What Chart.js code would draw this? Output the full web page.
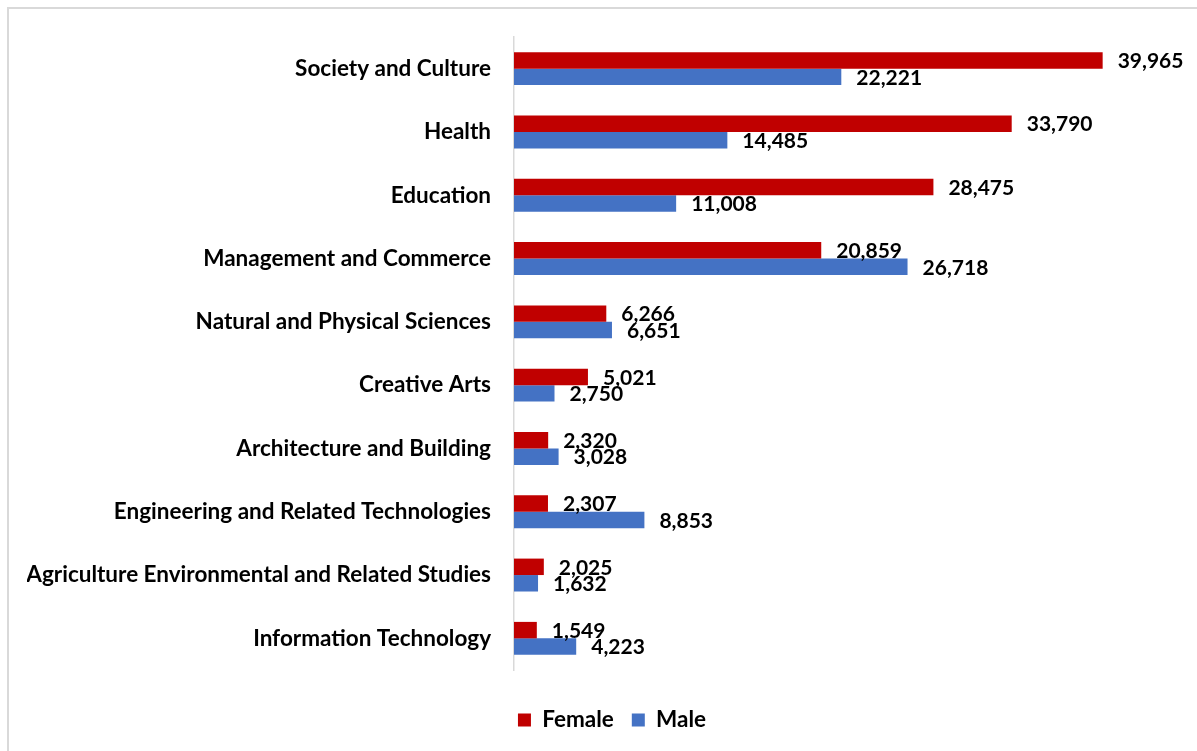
<!DOCTYPE html>
<html>
<head>
<meta charset="utf-8">
<script src="https://cdn.jsdelivr.net/npm/chart.js@4.4.1/dist/chart.umd.min.js"></script>
<style>
  html, body { margin: 0; padding: 0; background: #fff; overflow: hidden; }
  #wrap { position: relative; width: 1197px; height: 751px; }
  #frame { position: absolute; left: 7px; top: 7px; width: 1300px; height: 900px; border: 2px solid #d9d9d9; box-sizing: border-box; }
  canvas { position: absolute; left: 0; top: 0; }
</style>
</head>
<body>
<div id="wrap">
  <div id="frame"></div>
  <canvas id="c" width="1197" height="751"></canvas>
</div>
<script>
const categories = [
  "Society and Culture",
  "Health",
  "Education",
  "Management and Commerce",
  "Natural and Physical Sciences",
  "Creative Arts",
  "Architecture and Building",
  "Engineering and Related Technologies",
  "Agriculture Environmental and Related Studies",
  "Information Technology"
];
const femaleValues = [39965, 33790, 28475, 20859, 6266, 5021, 2320, 2307, 2025, 1549];
const maleValues   = [22221, 14485, 11008, 26718, 6651, 2750, 3028, 8853, 1632, 4223];
const seriesNames = ["Female", "Male"];

const FONT = "Lato, 'Open Sans', sans-serif";

const dataLabels = {
  id: 'dataLabels',
  afterDatasetsDraw(chart) {
    const ctx = chart.ctx;
    ctx.save();
    ctx.font = "bold 21px " + FONT;
    ctx.fillStyle = "#000";
    ctx.textAlign = "left";
    ctx.textBaseline = "middle";
    chart.data.datasets.forEach((ds, di) => {
      const meta = chart.getDatasetMeta(di);
      meta.data.forEach((bar, i) => {
        ctx.fillText(ds.data[i].toLocaleString('en-US'), bar.x + 15, bar.y + 1);
      });
    });
    ctx.restore();
  }
};

new Chart(document.getElementById('c'), {
  type: 'bar',
  data: {
    labels: categories,
    datasets: [
      { label: seriesNames[0], data: femaleValues, backgroundColor: '#C00000', categoryPercentage: 0.52, barPercentage: 1.0 },
      { label: seriesNames[1], data: maleValues, backgroundColor: '#4472C4', categoryPercentage: 0.52, barPercentage: 1.0 }
    ]
  },
  options: {
    indexAxis: 'y',
    responsive: false,
    animation: false,
    layout: { padding: { left: 27, right: 0, top: 37, bottom: 9.75 } },
    scales: {
      x: {
        min: 0,
        max: 46370,
        display: true,
        ticks: { display: false },
        grid: { display: false, drawTicks: false },
        border: { display: false },
        afterFit(s) { s.height = 20.75; }
      },
      y: {
        grid: { display: false, drawTicks: false },
        border: { display: true, color: '#d9d9d9', width: 1.5 },
        ticks: {
          padding: 23,
          color: '#000',
          font: { family: FONT, size: 22.5, weight: 'bold' }
        },
        afterFit(s) { s.width = 487; }
      }
    },
    plugins: {
      legend: {
        position: 'bottom',
        labels: {
          boxWidth: 13,
          boxHeight: 13,
          padding: 18,
          color: '#000',
          font: { family: FONT, size: 22.5, weight: 'bold' }
        }
      },
      tooltip: { enabled: false }
    }
  },
  plugins: [dataLabels]
});
</script>
</body>
</html>
